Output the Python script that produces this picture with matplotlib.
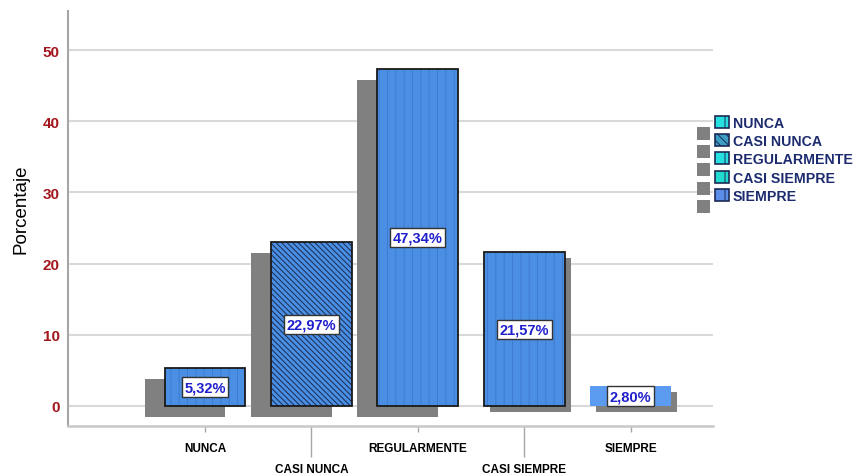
import matplotlib
matplotlib.use('Agg')
import matplotlib.pyplot as plt
from matplotlib.patches import Rectangle
from matplotlib.transforms import ScaledTranslation

categories = ['NUNCA', 'CASI NUNCA', 'REGULARMENTE', 'CASI SIEMPRE', 'SIEMPRE']
percentages = [5.32, 22.97, 47.34, 21.57, 2.80]
value_labels = ['5,32%', '22,97%', '47,34%', '21,57%', '2,80%']
y_ticks = [0, 10, 20, 30, 40, 50]

# SPSS style look per bar: fill, hatch, hatch colour, outline, shadow offset (px)
bar_fill = ['#4a8fe3', '#4a8fe3', '#4a8fe3', '#4a8fe3', '#5b9bf0']
bar_hatch = ['||', '\\\\\\\\\\\\', '||', '||', '']
hatch_col = ['#3f7bcf', '#182a50', '#3f7bcf', '#3f7bcf', '#5b9bf0']
bar_outline = ['#1a1a1a', '#1a1a1a', '#1a1a1a', '#1a1a1a', 'none']
shadow_px = [(-20, -11), (-20, -11), (-20, -11), (6, -6), (6, -6)]

legend_fill = ['#26e0e0', '#3c9ec4', '#26e0e0', '#22dcd0', '#5a8ee8']
legend_hatch = ['|', '\\\\\\\\', '|', '|', '|']

W, H, DPI = 855, 477, 100
plt.rcParams['font.family'] = ['Liberation Sans', 'DejaVu Sans']
plt.rcParams['hatch.linewidth'] = 0.7

fig = plt.figure(figsize=(W / DPI, H / DPI), dpi=DPI)
ax = fig.add_axes([68 / W, 1 - 427 / H, (713 - 68) / W, (427 - 12) / H])

x = list(range(len(categories)))
width = 0.76

# gray "3d" shadows behind the bars
for i in x:
    dx, dy = shadow_px[i]
    off = ax.transData + ScaledTranslation(dx / DPI, dy / DPI, fig.dpi_scale_trans)
    ax.bar(i, percentages[i], width, color='#808080', linewidth=0, transform=off, zorder=2)

# front bars with patterns
for i in x:
    ax.bar(i, percentages[i], width, color=bar_fill[i], edgecolor=hatch_col[i],
           linewidth=0, hatch=bar_hatch[i], zorder=3)
outline = ax.bar(x, percentages, width, fill=False, edgecolor=bar_outline,
                 linewidth=1.3, zorder=4)

ax.bar_label(outline, labels=value_labels, label_type='center', fontsize=10.5,
             fontweight='bold', color='#1f1fcc', zorder=5,
             bbox=dict(boxstyle='square,pad=0.18', fc='white', ec='#333333', lw=1))

# axes
ax.set_xlim(-1.288, 4.774)
ax.set_ylim(-2.81, 55.48)
ax.set_yticks(y_ticks)
ax.tick_params(axis='y', length=0, pad=6, labelcolor='#a3171e', labelsize=11)
for lab in ax.get_yticklabels():
    lab.set_fontweight('bold')
ax.yaxis.grid(True, color='#d9d9d9', linewidth=1.5)
ax.set_axisbelow(True)

ax.set_xticks(x[0::2], [categories[i] for i in x[0::2]], fontweight='bold')
ax.set_xticks(x[1::2], [categories[i] for i in x[1::2]], minor=True, fontweight='bold')
ax.tick_params(axis='x', which='major', length=4.5, width=1, color='#a6a6a6', pad=7, labelsize=8.5)
ax.tick_params(axis='x', which='minor', length=22, width=1, color='#a6a6a6', pad=5, labelsize=8.5)

for s in ['top', 'right']:
    ax.spines[s].set_visible(False)
ax.spines['left'].set_color('#a6a6a6')
ax.spines['left'].set_linewidth(1.5)
ax.spines['bottom'].set_color('#c8c8c8')
ax.spines['bottom'].set_linewidth(1.8)

ax.set_ylabel('Porcentaje', fontsize=13.5, color='black')
ax.yaxis.set_label_coords((29 - 68) / 645, 0.525)

# legend drawn by hand (with the gray shadow squares)
for i, name in enumerate(categories):
    top = 117 + i * 18.2
    fig.add_artist(Rectangle((697 / W, 1 - (top + 24) / H), 13 / W, 13 / H,
                             transform=fig.transFigure, fc='#808080', ec='none'))
    fig.add_artist(Rectangle((715 / W, 1 - (top + 12) / H), 14 / W, 12 / H,
                             transform=fig.transFigure, fc=legend_fill[i], ec='#1c2a55',
                             lw=1.2, hatch=legend_hatch[i]))
    fig.text(733 / W, 1 - (top + 7) / H, name, va='center', ha='left', fontsize=10.2,
             fontweight='bold', color='#1c2b6e')

fig.savefig('out.png', dpi=DPI)
